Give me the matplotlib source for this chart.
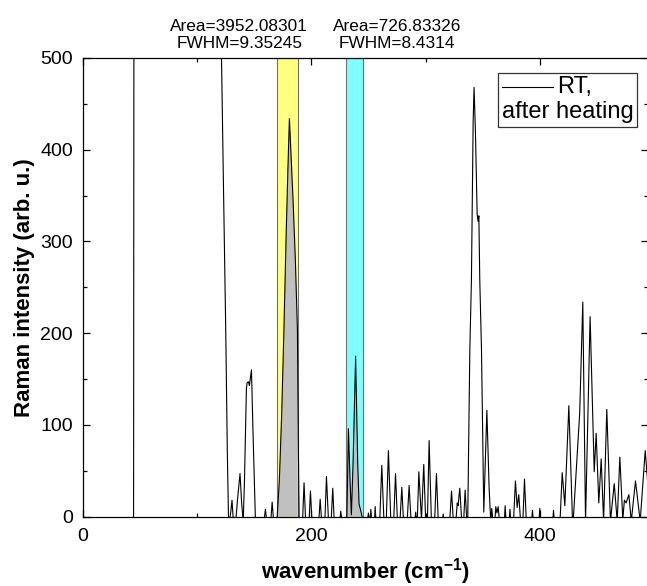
import numpy as np
import matplotlib.pyplot as plt
from matplotlib.lines import Line2D
from matplotlib.offsetbox import AnchoredOffsetbox, DrawingArea, TextArea, HPacker, VPacker

plt.rcParams['font.family'] = 'Liberation Sans'
plt.rcParams['mathtext.fontset'] = 'custom'
plt.rcParams['mathtext.rm'] = 'Liberation Sans'
plt.rcParams['mathtext.bf'] = 'Liberation Sans:bold'

# spectrum (wavenumber, intensity)
wavenumber = [30, 44.5, 45.5, 47, 60, 80, 100, 115, 119, 121.4, 123, 125.1, 126.5, 127.5, 128.3,
              129.5, 130.6, 131.8, 134, 135.5, 137.6, 139, 140.4,
              141.5, 143.2, 143.8, 145, 145.8, 147.6, 149, 151.1,
              158.5, 159.8, 161, 164.5, 165.7, 167,
              170, 172, 174, 176, 178, 179.5, 180.8, 182, 184, 186, 187.8, 188.6, 189.3,
              192.3, 193.6, 195, 198, 199.2, 200.5, 206.5, 207.7, 209, 211.8, 213.2, 215,
              217.3, 218.7, 220, 224.8, 225.7, 226.8,
              231, 232.4, 233.8, 235, 236.5, 238.7, 240.5, 241.7, 243.9, 245,
              249, 249.9, 250.9, 251.3, 252, 252.8, 255.2, 255.8, 256.5,
              259.8, 261.6, 263.5, 265.5, 267.4, 269.5, 272, 273.6, 275.3, 277.5, 279.1, 280.6,
              283.8, 285.5, 287.2, 290.5, 291.3, 292, 292.7, 294, 296.3, 298.3, 300, 301.5, 303, 305,
              307.8, 309.4, 311, 314.7, 315.3, 316, 321, 322.6, 324.2, 326.5, 327.6, 328.3, 329.8, 331.5,
              333.2, 334.5, 336, 336.8, 338.6, 340, 341.5, 342.3, 343.5, 345, 345.8, 346.5, 347.3, 348.8,
              350.8, 353.5, 355.5, 356.9, 357.8, 358.8, 360.5, 361.3, 362.3, 363.4, 364.5,
              368.8, 369.5, 370.3, 373, 373.7, 374.4, 376.8, 378.5, 380, 381.4, 383, 385, 386.4, 388,
              392.7, 393.4, 394.1, 399.1, 399.8, 400.5, 411.1, 411.8, 412.5,
              417.5, 419.4, 421.7, 425.2, 428.4, 429, 434.7, 437.4, 439.8, 443.8, 447.4, 449.1,
              451.4, 453.5, 455.6, 458.4, 461.6, 464.9, 467.5, 469.8, 472.4, 473.8, 475.3, 477.7,
              479.8, 483.5, 487.6, 492, 494, 496]
intensity = [-30, -30, 2000, 3000, 2500, 2000, 1500, 1000, 700, 500, 370, 204, 70, 0, -5,
             5, 18, -5, -3, 20, 47, 15, -5,
             40, 140, 146, 147, 143, 160, 90, -5,
             -5, 8, -5, -5, 16, -5,
             -3, 40, 110, 204, 310, 380, 434, 400, 345, 280, 204, 80, -5,
             -5, 37, -5, -5, 28, -5, -5, 19, -5, -5, 44, -5,
             -5, 31, -5, -5, 6, -5,
             -5, 96, 40, 2, 60, 175, 60, 14, 3, -5,
             -5, 4, -5, -5, 8, -5, -5, 11, -5,
             -5, 56, -5, -5, 72, -5, -5, 47, -5, -5, 32, -5,
             -5, 34, -5, -5, 5, -5, -3, 49, -3, 57, -5, -5, 83, -5,
             -5, 47, -5, -5, 3, -5, -5, 28, -5, -3, 15, 12, 31, -5,
             -5, 29, -5, 0, 182, 258, 430, 468, 420, 330, 322, 328, 258, 182,
             5, 116, 30, -5, 9, -5, -5, 11, 4, 11, -5,
             -5, 12, -5, -5, 8, -5, -5, 39, 10, 24, -5, -5, 41, -5,
             -5, 7, -5, -5, 9, -5, -5, 7, -5,
             -5, 48, 12, 121, -5, -5, 113, 234, -5, 218, 49, 91,
             15, 63, -5, 117, -5, 36, -5, 65, -3, 18, 15, 24,
             -5, 39, -5, 72, 40, -5]

bands = [(170, 188, '#FFFF80'), (230, 245, '#80FFFF')]
notes = ['Area=3952.08301\nFWHM=9.35245', 'Area=726.83326\nFWHM=8.4314']
note_x = [137, 275]

fig = plt.figure(figsize=(6.47, 5.86), dpi=100)
ax = fig.add_axes([82.7 / 647, 69.3 / 586, (647.5 - 82.7) / 647, 458.7 / 586])

wn = np.array(wavenumber, dtype=float)
it = np.array(intensity, dtype=float)

for lo, hi, col in bands:
    ax.axvspan(lo, hi, facecolor=col, edgecolor='#707070', lw=0.8, zorder=1)
    xs = np.linspace(lo, hi, 300)
    ys = np.clip(np.interp(xs, wn, it), 0, None)
    ax.fill_between(xs, 0, ys, facecolor='#C0C0C0', edgecolor='none', zorder=2)

ax.plot(wn, it, color='black', lw=0.8, zorder=3)

ax.set_xlim(0, 494)
ax.set_ylim(0, 500)
ax.set_xticks([0, 200, 400])
ax.set_xticks([100, 300], minor=True)
ax.set_yticks(np.arange(0, 501, 100))
ax.set_yticks(np.arange(50, 500, 100), minor=True)
ax.tick_params(which='both', direction='in', top=True, right=True, width=0.9)
ax.tick_params(which='major', length=5, labelsize=14)
ax.tick_params(axis='x', which='major', pad=8)
ax.tick_params(axis='y', which='major', pad=7)
ax.tick_params(which='minor', length=3)
for s in ax.spines.values():
    s.set_linewidth(0.9)

ax.set_xlabel(r'wavenumber (cm$^{\mathbf{-1}}$)', fontsize=16, fontweight='bold', labelpad=8)
ax.set_ylabel('Raman intensity (arb. u.)', fontsize=16, fontweight='bold', labelpad=4)

trans = ax.get_xaxis_transform()
for x, t in zip(note_x, notes):
    ax.text(x, 1.015, t, transform=trans, ha='center', va='bottom', fontsize=12.4,
            linespacing=1.15, clip_on=False)

# legend: line + "RT," then "after heating" on the next row
da = DrawingArea(37, 12, 0, 0)
da.add_artist(Line2D([0, 37], [6, 6], color='black', lw=0.8))
row1 = HPacker(children=[da, TextArea('RT,', textprops=dict(fontsize=17))], sep=3, align='center', pad=0)
row2 = TextArea('after heating', textprops=dict(fontsize=17))
box = VPacker(children=[row1, row2], sep=2, align='left', pad=0)
leg = AnchoredOffsetbox(loc='upper right', child=box, pad=0.25, borderpad=0, frameon=True,
                        bbox_to_anchor=(0.9814, 0.9673), bbox_transform=ax.transAxes)
leg.patch.set_boxstyle('square', pad=0)
leg.patch.set_edgecolor('#333333')
leg.patch.set_linewidth(0.9)
ax.add_artist(leg)

fig.savefig('out.png', dpi=100)
